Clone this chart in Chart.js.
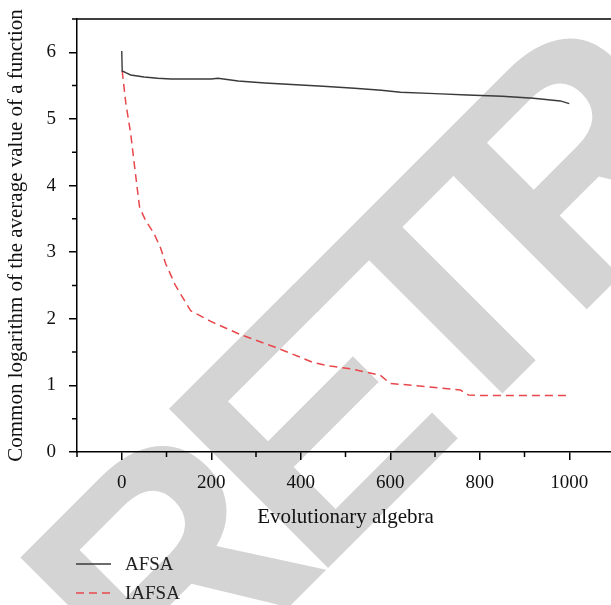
<!DOCTYPE html>
<html>
<head>
<meta charset="utf-8">
<script src="https://cdn.jsdelivr.net/npm/chart.js@4.4.1/dist/chart.umd.min.js"></script>
<style>
  html, body { margin: 0; padding: 0; background: #fff; overflow: hidden; }
  #wrap { position: relative; width: 625px; height: 605px; }
  #legend { position: absolute; left: 76px; top: 549px; font: 19px "Liberation Serif", serif; color: #222; }
  #legend div { height: 29px; display: flex; align-items: center; }
  #legend svg { margin-right: 14px; }
</style>
</head>
<body>
<div id="wrap">
  <canvas id="c"></canvas>
  <div id="legend"></div>
</div>
<script>
// AFSA
const afsaX = [0, 1, 10, 20, 50, 80, 110, 150, 200, 215, 260, 320, 400, 450, 520, 580, 623, 700, 772, 850, 920, 980, 1000];
const afsaY = [6.02, 5.72, 5.69, 5.66, 5.63, 5.61, 5.60, 5.60, 5.60, 5.61, 5.57, 5.54, 5.51, 5.49, 5.46, 5.43, 5.40, 5.38, 5.36, 5.34, 5.31, 5.27, 5.23];
// IAFSA
const iafsaX = [1, 9, 20, 27, 36, 40, 53, 72, 87, 98, 120, 154, 199, 266, 340, 400, 429, 466, 511, 578, 600, 650, 700, 757, 775, 800, 1000];
const iafsaY = [5.72, 5.24, 4.78, 4.38, 3.88, 3.67, 3.48, 3.28, 3.06, 2.83, 2.5, 2.12, 1.96, 1.76, 1.58, 1.42, 1.34, 1.29, 1.25, 1.15, 1.03, 1.0, 0.97, 0.93, 0.855, 0.85, 0.85];

const xMajor = [0, 200, 400, 600, 800, 1000];
const yMajor = [0, 1, 2, 3, 4, 5, 6];

const pts = (xs, ys) => xs.map((x, i) => ({ x: x, y: ys[i] }));
const serif = '"Liberation Serif", serif';

// grey RETRACTED stamp behind everything
const watermark = {
  id: 'watermark',
  beforeDraw(chart) {
    const ctx = chart.ctx;
    ctx.save();
    ctx.fillStyle = '#d4d4d4';
    ctx.font = 'bold 327px "Liberation Sans", sans-serif';
    ctx.letterSpacing = '-26px';
    ctx.translate(164, 732);
    ctx.rotate(-Math.PI / 4);
    ctx.textBaseline = 'alphabetic';
    ctx.fillText('RETRACTED', 0, 0);
    ctx.restore();
  }
};

// top frame line and the short minor ticks
const frame = {
  id: 'frame',
  afterDraw(chart) {
    const ctx = chart.ctx, a = chart.chartArea;
    const xs = chart.scales.x, ys = chart.scales.y;
    ctx.save();
    ctx.strokeStyle = '#000';
    ctx.lineWidth = 1.5;
    ctx.beginPath();
    ctx.moveTo(a.left, a.top);
    ctx.lineTo(a.right + 20, a.top);
    for (let v = -100; v <= 1100; v += 200) {
      const px = xs.getPixelForValue(v);
      ctx.moveTo(px, a.bottom);
      ctx.lineTo(px, a.bottom + 5);
    }
    for (let v = 0.5; v <= 6.5; v += 1) {
      const py = ys.getPixelForValue(v);
      ctx.moveTo(a.left, py);
      ctx.lineTo(a.left - 5, py);
    }
    ctx.stroke();
    ctx.restore();
  }
};

const chart = new Chart(document.getElementById('c'), {
  type: 'line',
  data: {
    datasets: [{
      label: 'AFSA',
      data: pts(afsaX, afsaY),
      borderColor: '#3a3a3a',
      borderWidth: 1.4,
      pointRadius: 0,
      tension: 0
    }, {
      label: 'IAFSA',
      data: pts(iafsaX, iafsaY),
      borderColor: '#e8474b',
      borderWidth: 1.5,
      borderDash: [8, 5],
      pointRadius: 0,
      tension: 0
    }]
  },
  options: {
    responsive: true,
    maintainAspectRatio: false,
    animation: false,
    layout: { padding: { top: 19, right: 11, bottom: 75, left: 0 } },
    plugins: { legend: { display: false }, tooltip: { enabled: false } },
    scales: {
      x: {
        type: 'linear',
        min: -100,
        max: 1100,
        afterBuildTicks: s => { s.ticks = xMajor.map(v => ({ value: v })); },
        afterFit: s => { s.height = 78; s.paddingLeft = 0; s.paddingRight = 0; },
        ticks: { color: '#111', padding: 12, font: { family: serif, size: 19 }, maxRotation: 0, callback: v => String(v) },
        grid: { drawOnChartArea: false, tickLength: 8, color: '#000', lineWidth: 1.5 },
        border: { color: '#000', width: 1.5 },
        title: { display: true, text: 'Evolutionary algebra', color: '#111', font: { family: serif, size: 21 }, padding: { top: 10, bottom: 0 } }
      },
      y: {
        min: 0,
        max: 6.5,
        afterBuildTicks: s => { s.ticks = yMajor.map(v => ({ value: v })); },
        afterFit: s => { s.width = 77; s.paddingTop = 0; s.paddingBottom = 0; },
        ticks: { color: '#111', padding: 13, font: { family: serif, size: 19 } },
        grid: { drawOnChartArea: false, tickLength: 8, color: '#000', lineWidth: 1.5 },
        border: { color: '#000', width: 1.5 },
        title: { display: true, text: 'Common logarithm of the average value of a function', color: '#111', font: { family: serif, size: 21 }, padding: { top: 4, bottom: 4 } }
      }
    }
  },
  plugins: [watermark, frame]
});

// legend built from the datasets
const leg = document.getElementById('legend');
chart.data.datasets.forEach(ds => {
  const row = document.createElement('div');
  const dash = ds.borderDash ? ds.borderDash.join(',') : 'none';
  row.innerHTML = '<svg width="35" height="4"><line x1="0" y1="2" x2="35" y2="2" stroke="' + ds.borderColor +
    '" stroke-width="1.4" stroke-dasharray="' + dash + '"/></svg><span>' + ds.label + '</span>';
  leg.appendChild(row);
});
</script>
</body>
</html>
